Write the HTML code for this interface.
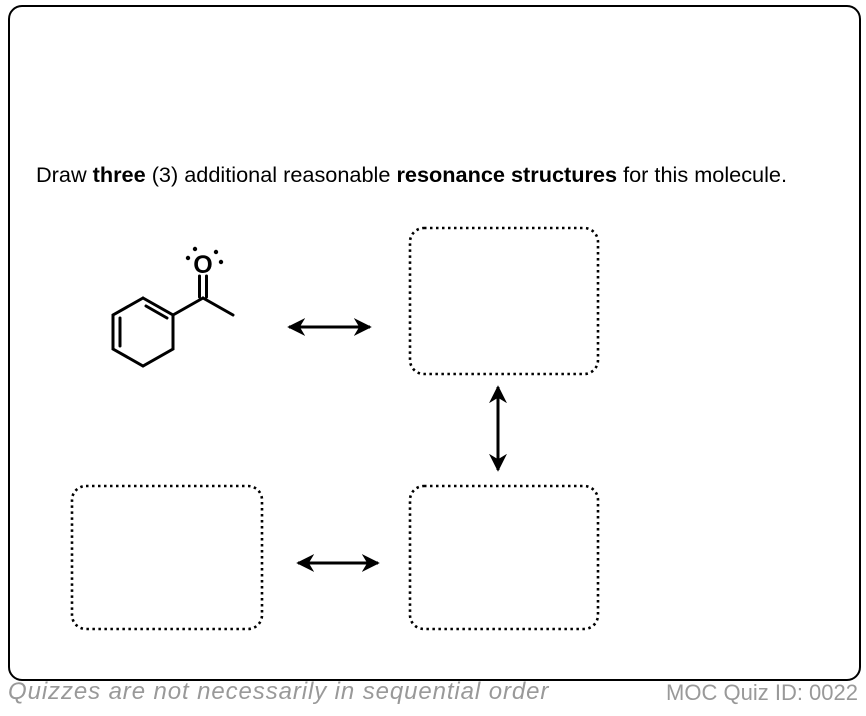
<!DOCTYPE html>
<html><head><style>
body{margin:0;width:866px;height:716px;background:#fff;font-family:"Liberation Sans",sans-serif;position:relative;overflow:hidden}
.frame{position:absolute;left:8px;top:5px;width:849px;height:672px;border:2px solid #000;border-radius:14px}
.t{position:absolute;left:36px;top:162px;font-size:21.7px;color:#000;white-space:nowrap}
.f1{position:absolute;left:8px;top:678px;font-size:24px;font-style:italic;color:#999;letter-spacing:0.9px;white-space:nowrap}
.f2{position:absolute;right:8px;top:680px;font-size:22px;color:#999}
</style></head><body>
<div class="frame"></div>
<div class="t">Draw <b>three</b> (3) additional reasonable <b>resonance structures</b> for this molecule.</div>
<svg width="866" height="716" style="position:absolute;left:0;top:0">
<defs><marker id="a" viewBox="0 0 10 10" refX="9" refY="5" markerWidth="6" markerHeight="6" orient="auto-start-reverse"><path d="M0,0 L10,5 L0,10 L3,5z" fill="#000"/></marker></defs>
<g stroke="#000" stroke-width="3" fill="none" stroke-linecap="round">
<polyline points="143,298 173,315 173,349 143,366 113,349 113,315 143,298"/>
<line x1="146" y1="306" x2="167" y2="318"/>
<line x1="120" y1="318" x2="120" y2="346"/>
<line x1="173" y1="315" x2="203" y2="298"/>
<line x1="203" y1="298" x2="233" y2="315"/>
<line x1="199.5" y1="297" x2="199.5" y2="276"/>
<line x1="206.5" y1="297" x2="206.5" y2="276"/>
</g>
<text x="203" y="273" font-size="25" text-anchor="middle" font-family="Liberation Sans" font-weight="bold">O</text>
<g fill="#000"><circle cx="188" cy="258" r="2.2"/><circle cx="195" cy="249" r="2.2"/><circle cx="216" cy="252" r="2.2"/><circle cx="221" cy="262" r="2.2"/></g>
<g stroke="#000" stroke-width="3" marker-start="url(#a)" marker-end="url(#a)">
<line x1="289" y1="327" x2="370" y2="327"/>
<line x1="498" y1="387" x2="498" y2="470"/>
<line x1="298" y1="563" x2="378" y2="563"/>
</g>
<g stroke="#000" stroke-width="2.6" fill="none" stroke-dasharray="2.5,3.5">
<rect x="410" y="228" width="188" height="146" rx="14"/>
<rect x="410" y="486" width="188" height="143" rx="14"/>
<rect x="72" y="486" width="190" height="143" rx="14"/>
</g>
</svg>
<div class="f1">Quizzes are not necessarily in sequential order</div>
<div class="f2">MOC Quiz ID: 0022</div>
</body></html>
